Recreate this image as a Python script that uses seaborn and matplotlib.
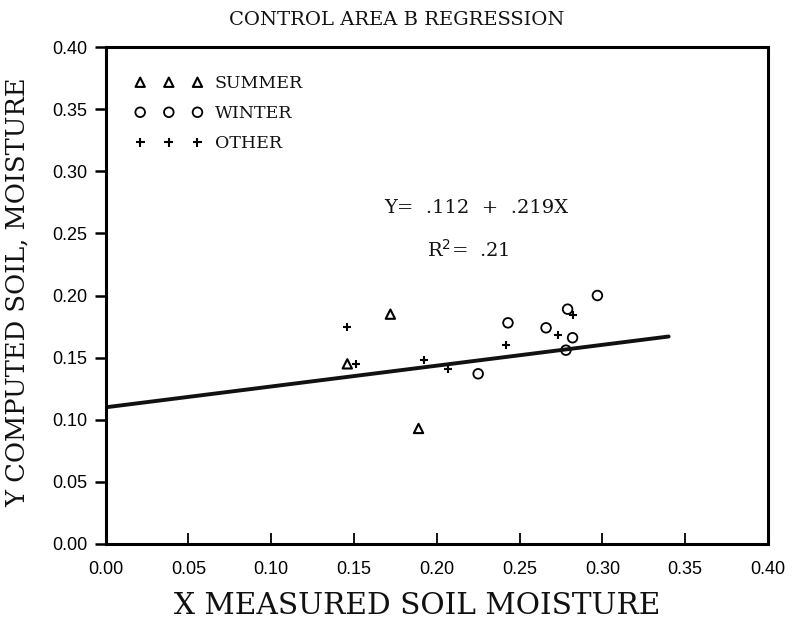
import matplotlib
matplotlib.use("Agg")
import matplotlib.pyplot as plt
import seaborn as sns
import pandas as pd

# ---- data ----
summer_x = [0.172, 0.146, 0.189]
summer_y = [0.185, 0.145, 0.093]
winter_x = [0.297, 0.279, 0.243, 0.266, 0.282, 0.278, 0.225]
winter_y = [0.200, 0.189, 0.178, 0.174, 0.166, 0.156, 0.137]
other_x = [0.282, 0.273, 0.242, 0.192, 0.207, 0.146, 0.151]
other_y = [0.184, 0.168, 0.160, 0.148, 0.141, 0.175, 0.145]
line_x = [0.0, 0.34]
line_y = [0.110, 0.167]
ticks = [0.00, 0.05, 0.10, 0.15, 0.20, 0.25, 0.30, 0.35, 0.40]
tick_labels = ["0.00", "0.05", "0.10", "0.15", "0.20", "0.25", "0.30", "0.35", "0.40"]

sns.set_theme(style="white")
plt.rcParams["font.family"] = ["DejaVu Serif"]

fig = plt.figure(figsize=(7.92, 6.19), dpi=100)
ax = fig.add_axes([105.5 / 792, 1 - 544 / 619, (768 - 105.5) / 792, (544 - 47) / 619])

sns.lineplot(x=line_x, y=line_y, ax=ax, color="#111111", linewidth=2.8)
sns.scatterplot(x=summer_x, y=summer_y, ax=ax, marker="^", s=45,
                facecolors="none", edgecolor="black", linewidth=1.5, label="SUMMER")
sns.scatterplot(x=winter_x, y=winter_y, ax=ax, marker="o", s=48,
                facecolors="none", edgecolor="black", linewidth=1.3, label="WINTER")
sns.scatterplot(x=other_x, y=other_y, ax=ax, marker="+", s=40,
                color="black", linewidth=1.5, label="OTHER")

ax.set_xlim(0, 0.40)
ax.set_ylim(0, 0.40)
ax.set_xticks(ticks)
ax.set_xticklabels(tick_labels, family="Liberation Sans", fontsize=13)
ax.set_yticks(ticks)
ax.set_yticklabels(tick_labels, family="Liberation Sans", fontsize=13)
ax.tick_params(axis="x", direction="in", length=8, width=1.3, pad=12, colors="black")
ax.tick_params(axis="y", direction="out", length=8, width=1.8, pad=5, colors="black")
ax.tick_params(left=True, bottom=True)

for sp in ax.spines.values():
    sp.set_visible(True)
    sp.set_color("black")
    sp.set_linewidth(2.2)

ax.set_xlabel("X MEASURED SOIL MOISTURE", fontsize=21.3, color="#111111")
ax.xaxis.set_label_coords(0.47, -0.097)
ax.set_ylabel("Y COMPUTED SOIL, MOISTURE", fontsize=18.5, color="#111111")
ax.yaxis.set_label_coords(-0.114, 0.507)

fig.text(0.5006, 1 - 20 / 619, "CONTROL AREA B REGRESSION", ha="center", va="center",
         fontsize=14, color="#111111")

ax.text(0.559, 0.676, "Y=  .112  +  .219X", transform=ax.transAxes, ha="center",
        va="center", fontsize=14, color="#111111")
ax.text(0.547, 0.592, "R$^2$=  .21", transform=ax.transAxes, ha="center",
        va="center", fontsize=14, color="#111111")

leg = ax.legend(loc="upper left", bbox_to_anchor=(0.034, 0.957), frameon=False,
                scatterpoints=3, scatteryoffsets=[0.5], handlelength=3.9,
                handletextpad=0.7, labelspacing=0.75, fontsize=12.5, borderaxespad=0)
for t in leg.get_texts():
    t.set_color("#111111")

fig.savefig("out.png", dpi=100, facecolor="white")
